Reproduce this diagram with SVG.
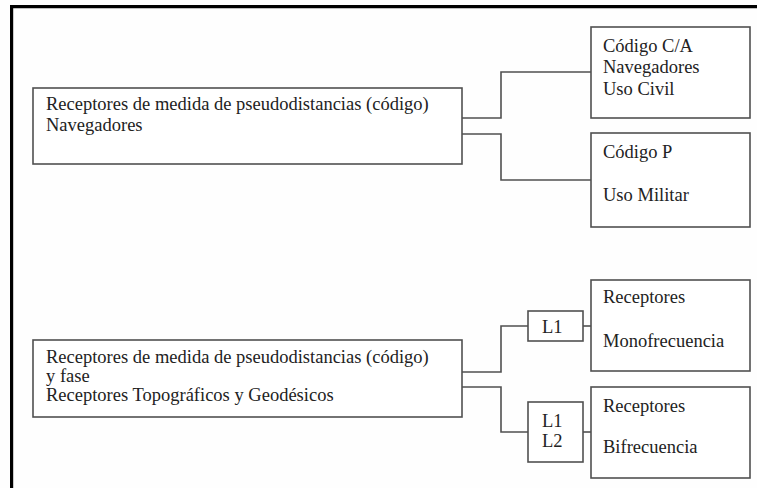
<svg xmlns="http://www.w3.org/2000/svg" width="757" height="488" viewBox="0 0 757 488">
<style>
.bg{fill:#fefefe}
.box{fill:#ffffff;stroke:#505050;stroke-width:1.6}
.t{font-family:"Liberation Serif","Times New Roman",serif;font-size:18.5px;fill:#222222}
.c{fill:none;stroke:#505050;stroke-width:1.6}
.frame{fill:none;stroke:#000;stroke-width:3.2}
</style>
<rect class="bg" x="0" y="0" width="757" height="488"/>
<path class="frame" d="M11.6 488 V6.6 H757"/>
<g id="connectors">
<path class="c" d="M462 118 H501 V72 H591"/>
<path class="c" d="M462 134 H501 V180 H591"/>
<path class="c" d="M462 372 H501 V326 H528"/>
<path class="c" d="M583 326 H591"/>
<path class="c" d="M462 387 H501 V432 H528"/>
<path class="c" d="M583 432 H591"/>
</g>
<g id="n1">
<rect class="box" x="33" y="88" width="429" height="76"/>
<text class="t" x="46" y="110">Receptores de medida de pseudodistancias (código)</text>
<text class="t" x="46" y="131">Navegadores</text>
</g>
<g id="n2">
<rect class="box" x="591" y="27" width="159" height="91"/>
<text class="t" x="603" y="52">Código C/A</text>
<text class="t" x="603" y="73">Navegadores</text>
<text class="t" x="603" y="95">Uso Civil</text>
</g>
<g id="n3">
<rect class="box" x="591" y="133" width="159" height="94"/>
<text class="t" x="603" y="158">Código P</text>
<text class="t" x="603" y="201">Uso Militar</text>
</g>
<g id="n4">
<rect class="box" x="33" y="340" width="429" height="77"/>
<text class="t" x="46" y="363">Receptores de medida de pseudodistancias (código)</text>
<text class="t" x="46" y="382">y fase</text>
<text class="t" x="46" y="401">Receptores Topográficos y Geodésicos</text>
</g>
<g id="n5">
<rect class="box" x="528" y="311" width="55" height="30"/>
<text class="t" x="542" y="333">L1</text>
</g>
<g id="n6">
<rect class="box" x="528" y="402" width="55" height="60"/>
<text class="t" x="542" y="427">L1</text>
<text class="t" x="542" y="447">L2</text>
</g>
<g id="n7">
<rect class="box" x="591" y="280" width="159" height="91"/>
<text class="t" x="603" y="303">Receptores</text>
<text class="t" x="603" y="347">Monofrecuencia</text>
</g>
<g id="n8">
<rect class="box" x="591" y="387" width="159" height="91"/>
<text class="t" x="603" y="412">Receptores</text>
<text class="t" x="603" y="453">Bifrecuencia</text>
</g>
</svg>
